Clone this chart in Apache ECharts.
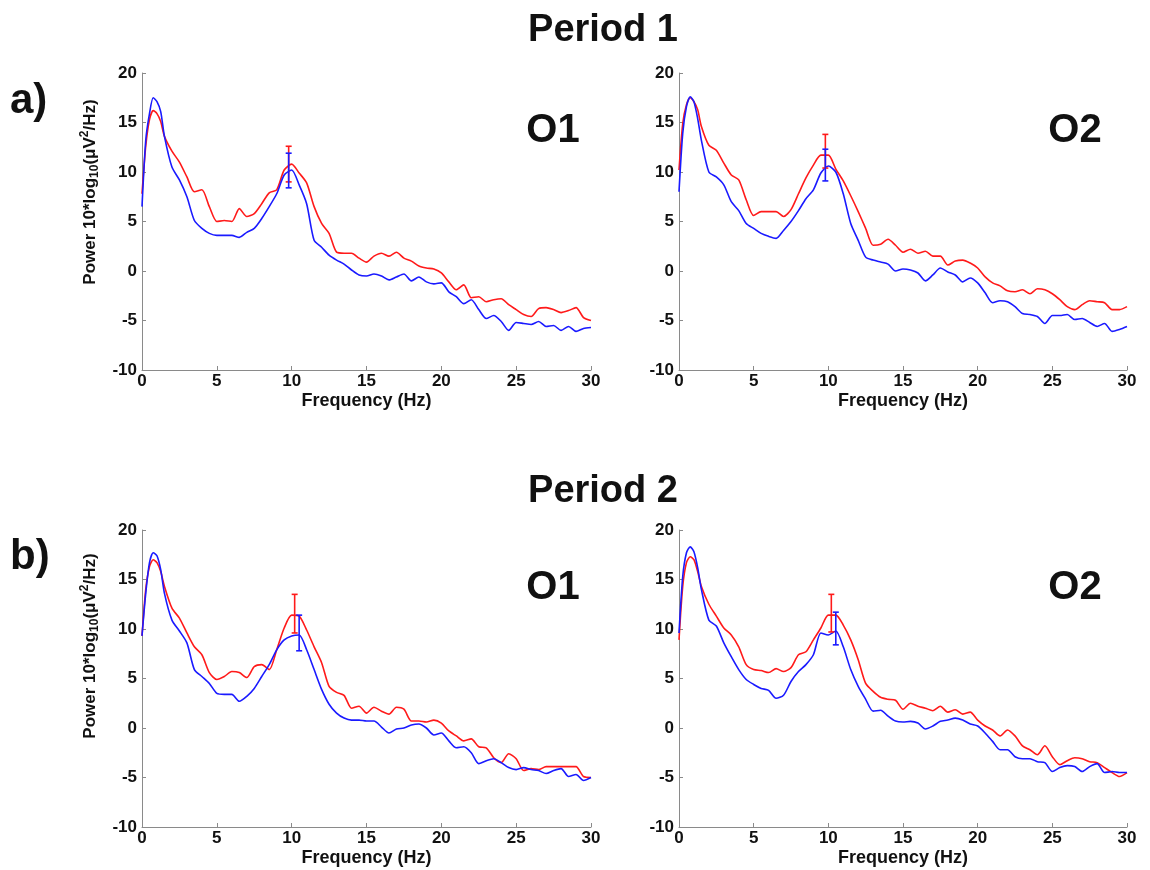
<!DOCTYPE html>
<html>
<head>
<meta charset="utf-8">
<script src="https://cdn.jsdelivr.net/npm/echarts@6/dist/echarts.min.js"></script>
<style>
html,body{margin:0;padding:0;background:#fff;}
#main{width:1150px;height:870px;}
</style>
</head>
<body>
<div id="main"></div>
<script>
// Frequency grid (Hz)
const freq = [0,0.25,0.5,0.75,1,1.25,1.5,2,2.5,3,3.5,4,4.5,5,5.5,6,6.5,7,7.5,8,8.5,9,9.5,10,10.5,11,11.5,12,12.5,13,13.5,14,14.5,15,15.5,16,16.5,17,17.5,18,18.5,19,19.5,20,20.5,21,21.5,22,22.5,23,23.5,24,24.5,25,25.5,26,26.5,27,27.5,28,28.5,29,29.5,30];

// Period 1, O1
const p1O1Red  = [7.8,12.6,15.3,16.2,15.9,15.1,13.6,12.1,11.0,9.5,8.0,8.2,6.5,5.0,5.1,5.0,6.3,5.5,5.8,6.8,7.9,8.2,10.2,10.8,9.9,8.9,6.5,4.8,3.8,1.9,1.8,1.8,1.3,0.9,1.5,1.8,1.5,1.9,1.3,1.0,0.5,0.3,0.2,-0.2,-1.1,-1.9,-1.4,-2.7,-2.6,-3.1,-2.9,-2.8,-3.4,-3.9,-4.4,-4.6,-3.8,-3.7,-3.9,-4.2,-4.0,-3.7,-4.7,-5.0];
const p1O1Blue = [6.5,13.2,15.9,17.5,17.1,16.1,13.6,10.5,9.2,7.5,5.1,4.3,3.8,3.6,3.6,3.6,3.4,3.9,4.3,5.3,6.5,7.8,9.7,10.2,8.7,6.8,3.1,2.4,1.6,1.1,0.7,0.1,-0.4,-0.5,-0.3,-0.5,-0.9,-0.6,-0.3,-1.0,-0.6,-1.1,-1.3,-1.2,-2.1,-2.6,-3.3,-2.9,-3.9,-4.8,-4.5,-5.1,-6.0,-5.2,-5.3,-5.4,-5.1,-5.6,-5.5,-6.0,-5.6,-6.1,-5.8,-5.7];
// Period 1, O2
const p1O2Red  = [10.2,14.9,16.8,17.5,17.1,16.3,14.6,12.7,12.2,10.9,9.7,9.2,7.2,5.6,6.0,6.0,6.0,5.5,6.2,7.8,9.4,10.7,11.7,11.7,10.3,9.1,7.6,6.0,4.3,2.6,2.7,3.2,2.6,1.9,2.2,1.8,2.0,1.5,1.5,0.6,1.0,1.1,0.8,0.3,-0.6,-1.2,-1.5,-2.0,-2.1,-1.9,-2.3,-1.8,-1.9,-2.3,-2.9,-3.6,-3.9,-3.4,-3.0,-3.1,-3.2,-3.9,-3.9,-3.6];
const p1O2Blue = [8.0,13.9,16.6,17.6,17.1,15.4,13.2,10.0,9.5,8.7,7.0,6.1,4.8,4.3,3.8,3.5,3.3,4.1,5.0,6.1,7.3,8.2,9.9,10.6,10.0,7.8,4.8,3.1,1.4,1.1,0.9,0.7,0.0,0.2,0.1,-0.2,-1.0,-0.4,0.3,-0.1,-0.4,-1.1,-0.7,-1.2,-2.2,-3.2,-3.0,-3.1,-3.6,-4.3,-4.4,-4.6,-5.3,-4.5,-4.5,-4.4,-4.9,-4.8,-5.2,-5.6,-5.3,-6.1,-5.9,-5.6];
// Period 2, O1
const p2O1Red  = [9.3,14.0,16.3,17.0,16.7,15.8,14.3,12.1,11.1,9.6,8.2,7.4,5.6,4.9,5.2,5.7,5.6,5.1,6.2,6.4,5.9,7.9,10.1,11.4,11.3,9.9,8.2,6.6,4.2,3.6,3.3,2.0,2.2,1.5,2.1,1.7,1.4,2.1,1.9,0.7,0.7,0.6,0.8,0.5,-0.3,-0.8,-1.3,-1.1,-1.9,-2.0,-3.0,-3.5,-2.6,-3.1,-4.3,-4.1,-4.2,-3.9,-3.9,-3.9,-3.9,-3.9,-4.9,-5.0];
const p2O1Blue = [9.3,13.6,16.7,17.7,17.4,16.0,13.6,10.9,9.8,8.6,5.9,5.2,4.5,3.5,3.4,3.4,2.7,3.2,4.0,5.2,6.4,7.9,8.9,9.3,9.4,7.9,5.9,3.9,2.4,1.5,1.0,0.8,0.8,0.7,0.7,0.1,-0.5,-0.1,0.0,0.3,0.4,0.0,-0.7,-0.5,-1.3,-2.0,-1.9,-2.5,-3.6,-3.3,-3.1,-3.5,-4.0,-4.2,-4.0,-4.2,-4.3,-4.6,-4.3,-4.1,-4.9,-4.7,-5.3,-5.0];
// Period 2, O2
const p2O2Red  = [8.9,14.3,16.7,17.3,17.0,15.8,14.3,12.5,11.3,10.1,9.4,8.2,6.4,5.9,5.8,5.6,6.0,5.7,6.1,7.4,7.7,8.9,10.1,11.4,11.4,10.4,8.9,6.9,4.5,3.7,3.1,2.9,2.8,1.9,2.5,2.2,2.0,1.75,2.2,1.6,1.85,1.4,1.6,0.8,0.2,-0.2,-0.8,-0.2,-0.8,-1.8,-2.2,-2.7,-1.8,-2.9,-3.7,-3.3,-3.0,-3.1,-3.4,-3.5,-4.0,-4.5,-4.9,-4.5];
const p2O2Blue = [9.6,15.3,17.7,18.3,17.8,16.2,14.0,10.9,10.3,8.6,7.2,5.9,4.9,4.4,4.0,3.8,3.0,3.3,4.7,5.7,6.4,7.4,9.6,9.4,9.8,8.2,5.9,4.2,2.9,1.7,1.8,1.2,0.7,0.6,0.67,0.5,-0.1,0.2,0.67,0.8,1.0,0.8,0.4,0.2,-0.5,-1.35,-2.2,-2.2,-2.9,-3.1,-3.1,-3.4,-3.5,-4.4,-4.0,-3.8,-3.9,-4.4,-3.9,-3.6,-4.5,-4.4,-4.5,-4.5];

// Error bars: [frequency, mean, low, high]
const p1O1RedErr  = [9.8, 10.8, 9.0, 12.6];
const p1O1BlueErr = [9.8, 10.2, 8.4, 11.9];
const p1O2RedErr  = [9.8, 12.1, 10.4, 13.8];
const p1O2BlueErr = [9.8, 10.7, 9.1, 12.3];
const p2O1RedErr  = [10.2, 11.5, 9.6, 13.5];
const p2O1BlueErr = [10.5, 9.6, 7.8, 11.4];
const p2O2RedErr  = [10.2, 11.5, 9.7, 13.5];
const p2O2BlueErr = [10.5, 10.0, 8.4, 11.7];

// Axis ticks
const xTicks = [0,5,10,15,20,25,30];
const yTicks = [-10,-5,0,5,10,15,20];

const panels = [
  {red:p1O1Red, blue:p1O1Blue, rErr:p1O1RedErr, bErr:p1O1BlueErr, left:142, top:73, width:449, height:297},
  {red:p1O2Red, blue:p1O2Blue, rErr:p1O2RedErr, bErr:p1O2BlueErr, left:679, top:73, width:448, height:297},
  {red:p2O1Red, blue:p2O1Blue, rErr:p2O1RedErr, bErr:p2O1BlueErr, left:142, top:530, width:449, height:297},
  {red:p2O2Red, blue:p2O2Blue, rErr:p2O2RedErr, bErr:p2O2BlueErr, left:679, top:530, width:448, height:297}
];

const RED = '#ff1a1a', BLUE = '#1a1aff';
const FONT = '"Liberation Sans", Arial, sans-serif';

const grid = [], xAxis = [], yAxis = [], series = [];
panels.forEach((p, i) => {
  grid.push({left:p.left, top:p.top, width:p.width, height:p.height, containLabel:false});
  xAxis.push({
    type:'value', gridIndex:i, min:xTicks[0], max:xTicks[xTicks.length-1], interval:5,
    name:'Frequency (Hz)', nameLocation:'middle', nameGap:22,
    nameTextStyle:{fontFamily:FONT, fontWeight:'bold', fontSize:18, color:'#111'},
    axisLine:{show:true, onZero:false, lineStyle:{color:'#8a8a8a', width:1}},
    axisTick:{show:true, inside:true, length:4, lineStyle:{color:'#8a8a8a'}},
    axisLabel:{fontFamily:FONT, fontWeight:'bold', fontSize:17, color:'#111', margin:3},
    splitLine:{show:false}
  });
  yAxis.push({
    type:'value', gridIndex:i, min:yTicks[0], max:yTicks[yTicks.length-1], interval:5,
    axisLine:{show:true, onZero:false, lineStyle:{color:'#8a8a8a', width:1}},
    axisTick:{show:true, inside:true, length:4, lineStyle:{color:'#8a8a8a'}},
    axisLabel:{fontFamily:FONT, fontWeight:'bold', fontSize:17, color:'#111', margin:5},
    splitLine:{show:false}
  });
  series.push({type:'line', xAxisIndex:i, yAxisIndex:i, showSymbol:false, symbol:'none', smooth:0.25,
    data:freq.map((f,k)=>[f,p.red[k]]), lineStyle:{color:RED, width:1.6}, itemStyle:{color:RED}, z:2});
  series.push({type:'line', xAxisIndex:i, yAxisIndex:i, showSymbol:false, symbol:'none', smooth:0.25,
    data:freq.map((f,k)=>[f,p.blue[k]]), lineStyle:{color:BLUE, width:1.6}, itemStyle:{color:BLUE}, z:3});
  [[p.rErr, RED],[p.bErr, BLUE]].forEach(([e,c]) => {
    series.push({
      type:'custom', xAxisIndex:i, yAxisIndex:i, z:4,
      data:[e],
      renderItem:function(params, api){
        const x = api.value(0);
        const lo = api.coord([x, api.value(2)]);
        const hi = api.coord([x, api.value(3)]);
        const cap = 3;
        const st = {stroke:c, lineWidth:1.6};
        return {type:'group', children:[
          {type:'line', shape:{x1:lo[0], y1:lo[1], x2:hi[0], y2:hi[1]}, style:st},
          {type:'line', shape:{x1:lo[0]-cap, y1:lo[1], x2:lo[0]+cap, y2:lo[1]}, style:st},
          {type:'line', shape:{x1:hi[0]-cap, y1:hi[1], x2:hi[0]+cap, y2:hi[1]}, style:st}
        ]};
      }
    });
  });
});

function bigText(txt, x, y, size, align){
  return {type:'text', x:x, y:y, style:{text:txt, fontFamily:FONT, fontWeight:'bold', fontSize:size, fill:'#111', textAlign:align||'center', textVerticalAlign:'middle'}};
}
function yName(x, y){
  return {type:'text', x:x, y:y, rotation:Math.PI/2,
    style:{
      text:'{n|Power 10*log}{s|10}{n|(μV}{p|2}{n|/Hz)}',
      textAlign:'center', textVerticalAlign:'middle',
      rich:{
        n:{fontFamily:FONT, fontWeight:'bold', fontSize:17, fill:'#111', lineHeight:26, verticalAlign:'middle'},
        s:{fontFamily:FONT, fontWeight:'bold', fontSize:12, fill:'#111', lineHeight:26, verticalAlign:'bottom', padding:[0,0,2,0]},
        p:{fontFamily:FONT, fontWeight:'bold', fontSize:12, fill:'#111', lineHeight:26, verticalAlign:'top', padding:[2,0,0,0]}
      }
    }};
}

const option = {
  backgroundColor:'#fff',
  animation:false,
  grid:grid, xAxis:xAxis, yAxis:yAxis, series:series,
  graphic:[
    bigText('Period 1', 603, 31, 38),
    bigText('Period 2', 603, 492, 38),
    bigText('a)', 10, 101, 42, 'left'),
    bigText('b)', 10, 557, 42, 'left'),
    bigText('O1', 553, 131, 40),
    bigText('O2', 1075, 131, 40),
    bigText('O1', 553, 588, 40),
    bigText('O2', 1075, 588, 40),
    yName(90, 192),
    yName(90, 646)
  ]
};

const chart = echarts.init(document.getElementById('main'), null, {renderer:'canvas'});
chart.setOption(option);
</script>
</body>
</html>
